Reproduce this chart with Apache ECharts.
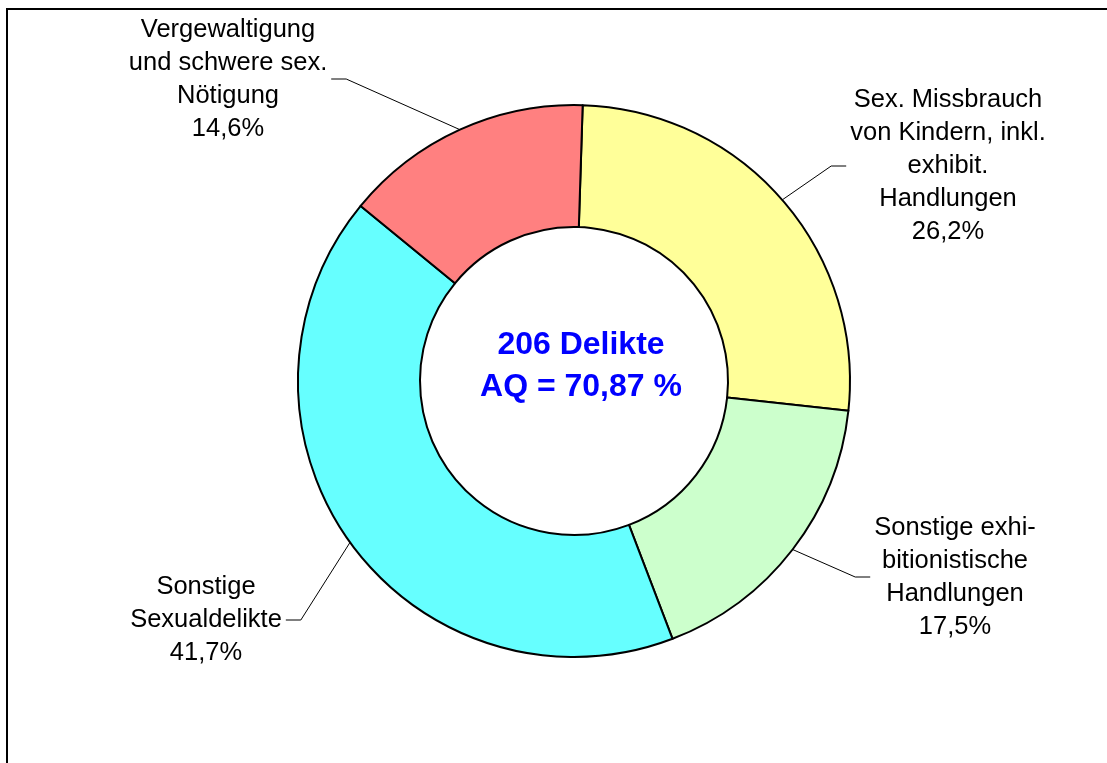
<!DOCTYPE html>
<html><head><meta charset="utf-8">
<script src="https://cdn.jsdelivr.net/npm/echarts@6/dist/echarts.min.js"></script>
<style>html,body{margin:0;padding:0;background:#fff}#c{width:1107px;height:763px}</style>
</head><body><div id="c"></div>
<script>
const categories = [
  'Sex. Missbrauch\nvon Kindern, inkl.\nexhibit.\nHandlungen',
  'Sonstige exhi-\nbitionistische\nHandlungen',
  'Sonstige\nSexualdelikte',
  'Vergewaltigung\nund schwere sex.\nNötigung'
];
const counts = [54, 36, 86, 30];
const colors = ['#FFFF99', '#CCFFCC', '#66FFFF', '#FF8080'];
const centerLines = ['206 Delikte', 'AQ = 70,87 %'];
const labelCenters = [[948, 166], [955, 577], [206, 620], [228, 79]];

const FONT = "'Liberation Sans', Arial, Helvetica, sans-serif";
const CX = 574, CY = 381;
const chart = echarts.init(document.getElementById('c'), null, {renderer: 'canvas'});
chart.setOption({
  animation: false,
  backgroundColor: '#ffffff',
  graphic: [
    {type: 'rect', shape: {x: 7, y: 9, width: 1200, height: 800}, style: {fill: 'none', stroke: '#000', lineWidth: 2}, silent: true},
    {type: 'text', x: 581, y: 366, z: 10, style: {text: centerLines.join('\n'), align: 'center', verticalAlign: 'middle', font: 'bold 32px ' + FONT, fill: '#0000FF', lineHeight: 42}}
  ],
  series: [{
    type: 'pie',
    center: [CX, CY],
    radius: [154, 276],
    startAngle: 88.2,
    clockwise: true,
    percentPrecision: 1,
    avoidLabelOverlap: false,
    data: categories.map((n, i) => ({name: n, value: counts[i], itemStyle: {color: colors[i]}})),
    itemStyle: {borderColor: '#000', borderWidth: 2},
    emphasis: {disabled: true},
    label: {
      show: true,
      position: 'outside',
      fontFamily: FONT,
      fontSize: 25.5,
      lineHeight: 33,
      color: '#000',
      formatter: p => p.name + '\n' + p.percent.toFixed(1).replace('.', ',') + '%'
    },
    labelLine: {show: true, length: 20, length2: 16, lineStyle: {color: '#000', width: 1}},
    labelLayout: function (p) {
      const c = labelCenters[p.dataIndex];
      const w = p.labelRect.width;
      const left = c[0] < CX;
      const anchorX = left ? c[0] + w / 2 + 4 : c[0] - w / 2 - 4;
      const elbowX = left ? anchorX + 15 : anchorX - 15;
      const start = p.labelLinePoints ? p.labelLinePoints[0] : [elbowX, c[1]];
      return {
        x: c[0], y: c[1], align: 'center', verticalAlign: 'middle',
        labelLinePoints: [start, [elbowX, c[1]], [anchorX, c[1]]]
      };
    }
  }]
});
</script>
</body></html>
